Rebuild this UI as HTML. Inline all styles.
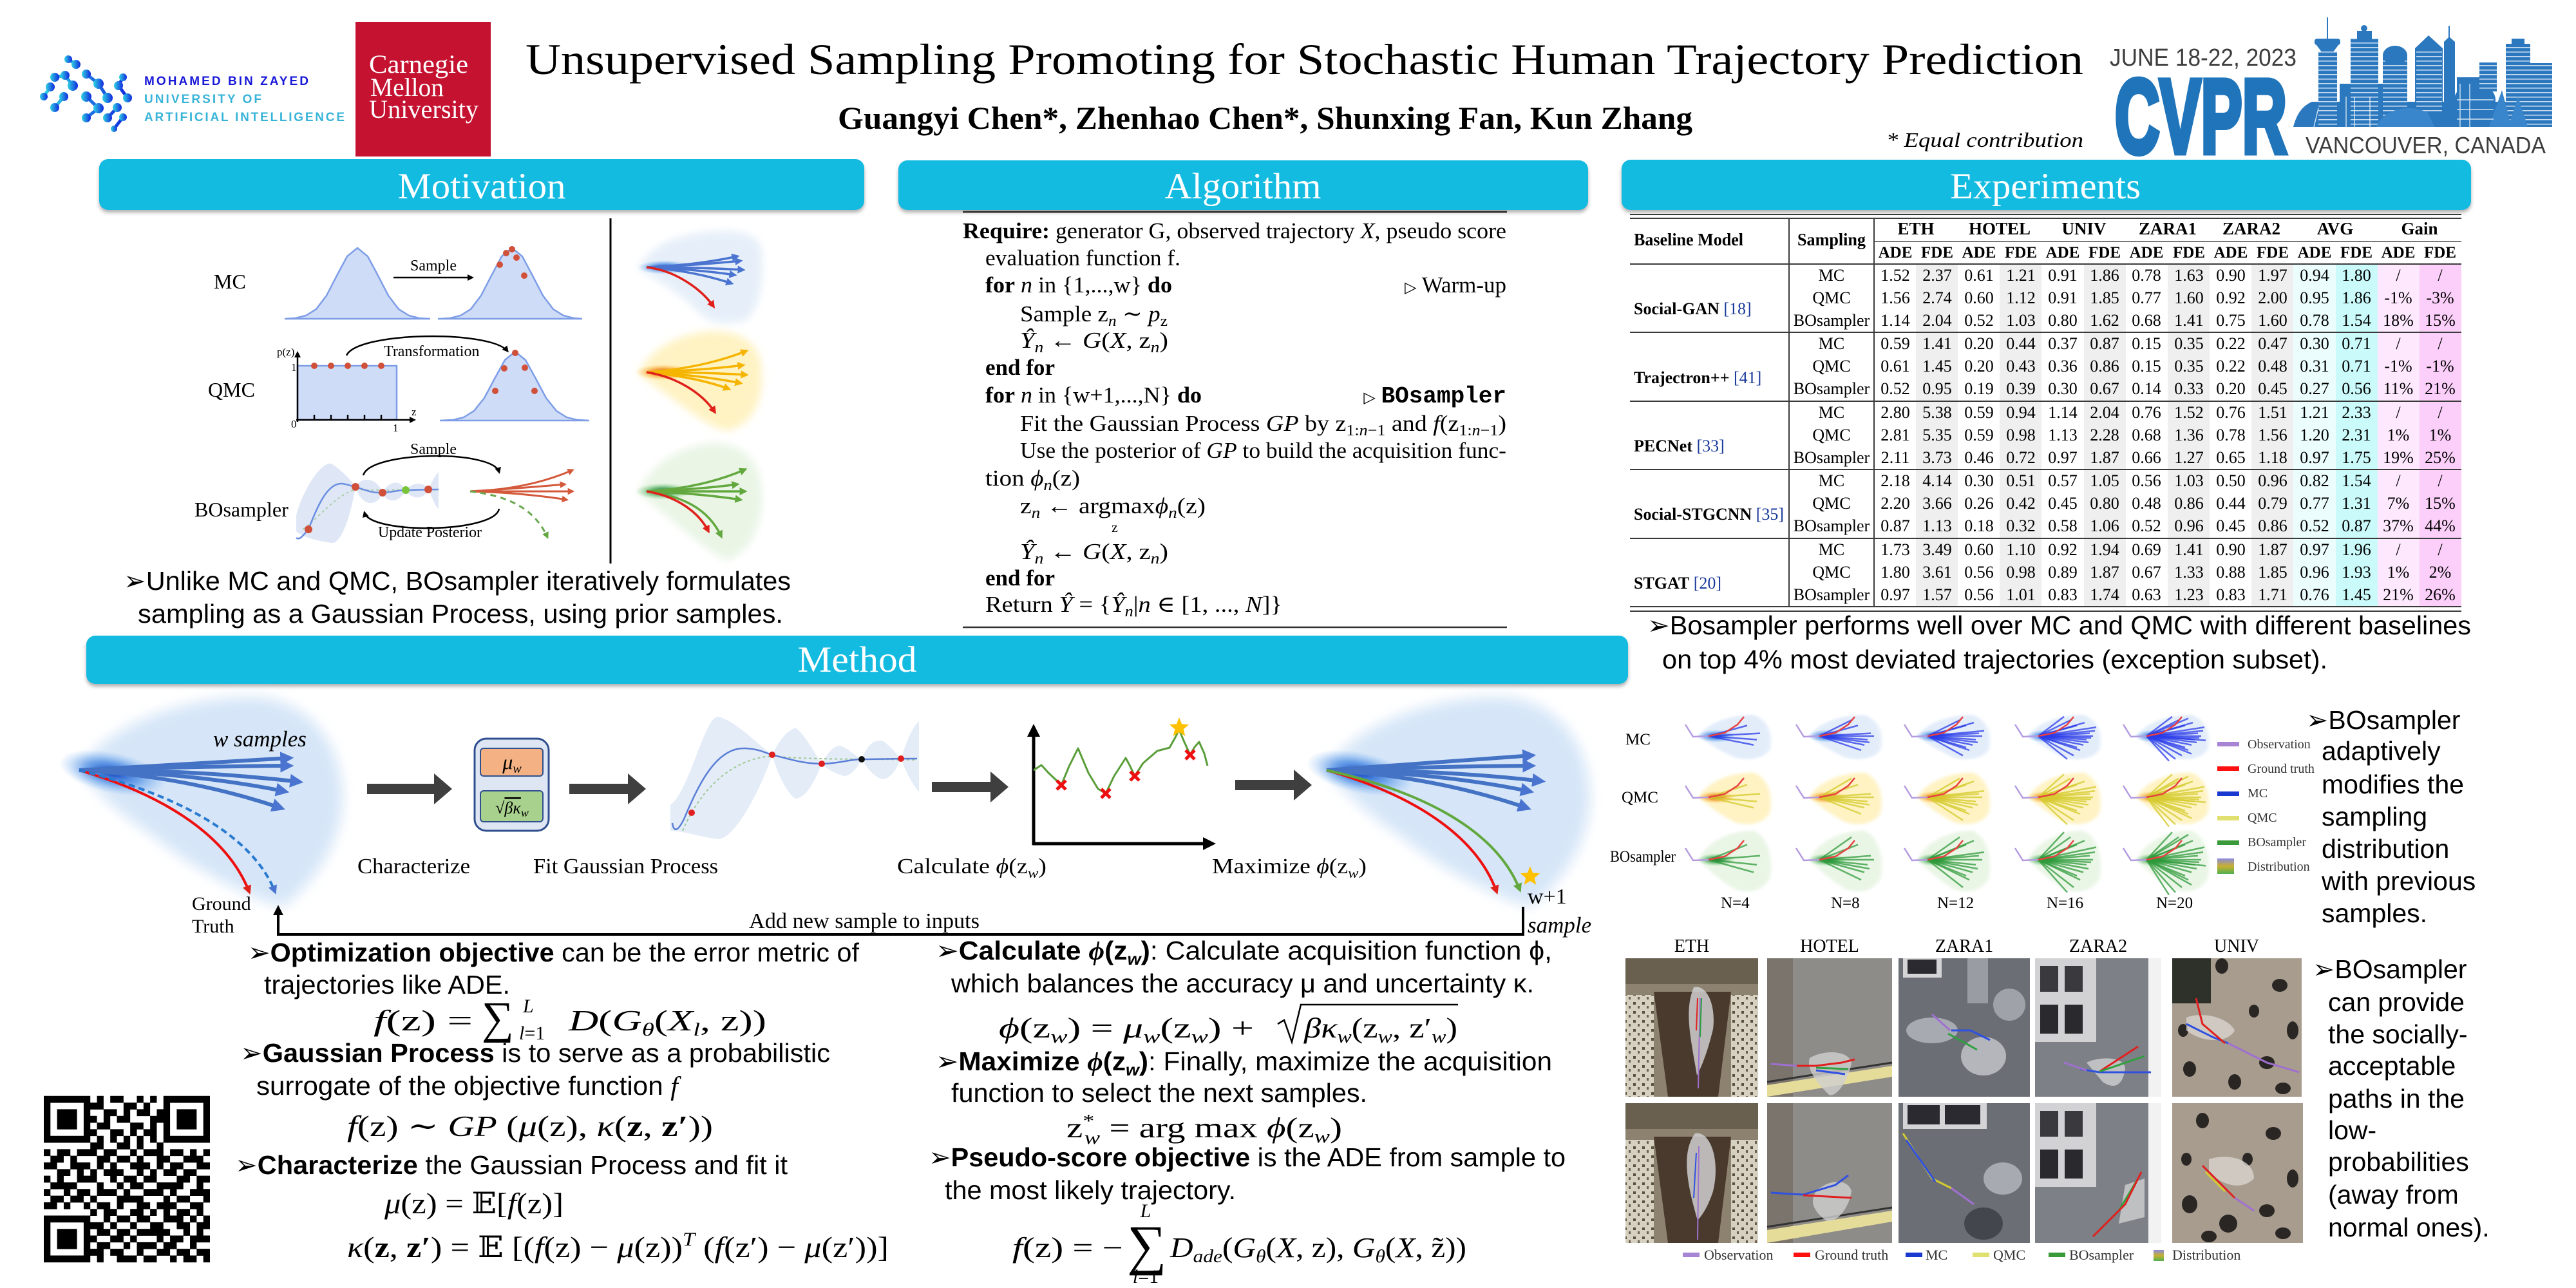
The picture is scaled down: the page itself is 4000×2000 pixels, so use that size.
<!DOCTYPE html>
<html><head><meta charset="utf-8">
<style>
html,body{margin:0;padding:0;background:#fff;}
svg{display:block;}
.s{font-family:"Liberation Serif","DejaVu Serif",serif;}
.a{font-family:"Liberation Sans","DejaVu Sans",sans-serif;}
.m{font-family:"Liberation Mono","DejaVu Sans Mono",monospace;}
.i{font-style:italic;}
.b{font-weight:bold;}
.n{font-weight:normal;}
</style></head><body>
<svg width="4000" height="2000" viewBox="0 0 4000 2000" xmlns="http://www.w3.org/2000/svg">
<defs>
<filter id="bl3" x="-20%" y="-20%" width="140%" height="140%"><feGaussianBlur stdDeviation="3"/></filter>
<filter id="bl6" x="-30%" y="-30%" width="160%" height="160%"><feGaussianBlur stdDeviation="6"/></filter>
<filter id="bl10" x="-30%" y="-30%" width="160%" height="160%"><feGaussianBlur stdDeviation="10"/></filter>
<linearGradient id="mbz" x1="0" x2="1" y1="0" y2="0"><stop offset="0" stop-color="#2fd3e2"/><stop offset="1" stop-color="#1028e0"/></linearGradient>
<radialGradient id="cB"><stop offset="0" stop-color="#0a3fc0"/><stop offset="0.5" stop-color="#2a78e0" stop-opacity="0.6"/><stop offset="1" stop-color="#6aa8f0" stop-opacity="0"/></radialGradient>
<radialGradient id="cY"><stop offset="0" stop-color="#c83000"/><stop offset="0.5" stop-color="#f08a10" stop-opacity="0.6"/><stop offset="1" stop-color="#ffd060" stop-opacity="0"/></radialGradient>
<radialGradient id="cG"><stop offset="0" stop-color="#005a20"/><stop offset="0.5" stop-color="#2a9a40" stop-opacity="0.6"/><stop offset="1" stop-color="#80d080" stop-opacity="0"/></radialGradient>
<linearGradient id="dist" x1="0" x2="0" y1="0" y2="1"><stop offset="0" stop-color="#8a8ae0"/><stop offset="0.5" stop-color="#c8b030"/><stop offset="1" stop-color="#50b050"/></linearGradient>
<pattern id="win" width="8" height="7" patternUnits="userSpaceOnUse"><rect width="8" height="7" fill="#2b78bf"/><rect y="3" width="8" height="1.6" fill="#ffffff" fill-opacity="0.75"/></pattern>
<pattern id="tile" width="14" height="14" patternUnits="userSpaceOnUse"><rect width="14" height="14" fill="#d6d0c0"/><rect x="2" y="2" width="4" height="4" fill="#5a5040"/><rect x="9" y="8" width="3" height="4" fill="#6a6050"/></pattern>
<marker id="mB" viewBox="0 0 10 10" refX="7" refY="5" markerWidth="3.5" markerHeight="3.5" orient="auto"><path d="M0 0L10 5L0 10z" fill="#4a74d0"/></marker>
<marker id="mR" viewBox="0 0 10 10" refX="7" refY="5" markerWidth="3.5" markerHeight="3.5" orient="auto"><path d="M0 0L10 5L0 10z" fill="#e0201a"/></marker>
<marker id="mY" viewBox="0 0 10 10" refX="7" refY="5" markerWidth="3.5" markerHeight="3.5" orient="auto"><path d="M0 0L10 5L0 10z" fill="#f5b400"/></marker>
<marker id="mG" viewBox="0 0 10 10" refX="7" refY="5" markerWidth="3.5" markerHeight="3.5" orient="auto"><path d="M0 0L10 5L0 10z" fill="#62a83e"/></marker>
<marker id="mO" viewBox="0 0 10 10" refX="7" refY="5" markerWidth="3.5" markerHeight="3.5" orient="auto"><path d="M0 0L10 5L0 10z" fill="#d4583a"/></marker>
<marker id="mK" viewBox="0 0 10 10" refX="7" refY="5" markerWidth="4" markerHeight="4" orient="auto"><path d="M0 0L10 5L0 10z" fill="#000"/></marker>
<path id="blob" d="M-15 0 C -5 -30, 30 -55, 70 -55 C 95 -40, 100 0, 95 35 C 85 60, 60 65, 40 55 C 20 40, 0 20, -15 0Z"/>
<g id="f1"><path vector-effect="non-scaling-stroke" d="M0 0L80 -8M0 0L75 10M0 0L70 25M0 0L60 -30"/></g>
<g id="f2"><path vector-effect="non-scaling-stroke" d="M0 0L85 0M0 0L65 40M0 0L50 -45M0 0L78 18"/></g>
<g id="f3"><path vector-effect="non-scaling-stroke" d="M0 0L55 55M0 0L88 -15M0 0L72 -38M0 0L60 32"/></g>
<g id="f4"><path vector-effect="non-scaling-stroke" d="M0 0L45 65M0 0L82 5M0 0L90 -25M0 0L40 -55"/></g>
<g id="f5"><path vector-effect="non-scaling-stroke" d="M0 0L70 50M0 0L35 70M0 0L92 12M0 0L65 -50"/></g>
<g id="gt"><path vector-effect="non-scaling-stroke" d="M0 0L25 -5L45 -18L55 -30" stroke="#e84040" stroke-width="2.5" fill="none"/><path vector-effect="non-scaling-stroke" d="M0 0L-24 1L-36 -18" stroke="#b49ae0" stroke-width="2.5" fill="none"/></g>
<path id="star" d="M0 -16L4.1 -5.7L15.2 -4.9L6.7 2.2L9.4 12.9L0 7L-9.4 12.9L-6.7 2.2L-15.2 -4.9L-4.1 -5.7Z" fill="#ffc000"/>
<path id="xx" d="M-7 -7L7 7M7 -7L-7 7" stroke="#ee1010" stroke-width="5"/>
</defs>

<rect width="4000" height="2000" fill="#fff"/>

<!-- ============ HEADER ============ -->
<g stroke="url(#mbz)" stroke-width="5">
<path d="M106 92L118 100M85 120L101 117M101 117L113 133M134 115L153 130M153 130L167 152M78 135L68 150M99 150L85 167M134 150L153 168M184 133L198 152M191 120L184 133M182 167L167 183M134 183L153 168M191 182L177 200"/>
</g>
<g fill="url(#mbz)">
<circle cx="106" cy="92" r="6"/><circle cx="118" cy="100" r="7"/><circle cx="85" cy="120" r="7"/><circle cx="101" cy="117" r="7"/><circle cx="134" cy="115" r="7"/><circle cx="113" cy="133" r="8"/><circle cx="153" cy="130" r="8"/><circle cx="191" cy="120" r="6"/><circle cx="78" cy="135" r="7"/><circle cx="99" cy="150" r="7"/><circle cx="134" cy="150" r="8"/><circle cx="167" cy="152" r="8"/><circle cx="184" cy="133" r="7"/><circle cx="198" cy="152" r="7"/><circle cx="85" cy="167" r="7"/><circle cx="153" cy="168" r="8"/><circle cx="182" cy="167" r="7"/><circle cx="134" cy="183" r="7"/><circle cx="167" cy="183" r="7"/><circle cx="191" cy="182" r="6"/><circle cx="68" cy="150" r="6"/><circle cx="177" cy="200" r="5"/>
</g>
<text class="a b" x="224" y="132" font-size="19" fill="#1818d8" textLength="255" lengthAdjust="spacing">MOHAMED BIN ZAYED</text>
<text class="a b" x="224" y="160" font-size="19" fill="#38b4d8" textLength="182" lengthAdjust="spacing">UNIVERSITY OF</text>
<text class="a b" x="224" y="188" font-size="19" fill="#38b4d8" textLength="311" lengthAdjust="spacing">ARTIFICIAL INTELLIGENCE</text>

<rect x="552" y="34" width="210" height="209" fill="#c41230"/>
<text class="s" x="573" y="113" font-size="40" fill="#fff" textLength="154" lengthAdjust="spacingAndGlyphs">Carnegie</text>
<text class="s" x="575" y="149" font-size="40" fill="#fff" textLength="114" lengthAdjust="spacingAndGlyphs">Mellon</text>
<text class="s" x="573" y="183" font-size="40" fill="#fff" textLength="170" lengthAdjust="spacingAndGlyphs">University</text>

<text class="s" x="816" y="115" font-size="68" fill="#000" textLength="2419" lengthAdjust="spacingAndGlyphs">Unsupervised Sampling Promoting for Stochastic Human Trajectory Prediction</text>
<text class="s b" x="1301" y="200" font-size="50" fill="#000" textLength="1327" lengthAdjust="spacingAndGlyphs">Guangyi Chen*, Zhenhao Chen*, Shunxing Fan, Kun Zhang</text>
<text class="s i" x="2929" y="228" font-size="32" fill="#000" textLength="306" lengthAdjust="spacingAndGlyphs">* Equal contribution</text>

<!-- CVPR logo -->
<text class="a" x="3276" y="102" font-size="38" fill="#3d3d3d" textLength="290" lengthAdjust="spacingAndGlyphs">JUNE 18-22, 2023</text>
<text class="a b" x="3284" y="237" font-size="163" fill="#1f74ba" stroke="#1f74ba" stroke-width="9" textLength="267" lengthAdjust="spacingAndGlyphs">CVPR</text>
<text class="a" x="3580" y="238" font-size="36" fill="#3d3d3d" textLength="373" lengthAdjust="spacingAndGlyphs">VANCOUVER, CANADA</text>
<g fill="#2b78bf">
<path d="M3561 197 C 3566 178, 3574 165, 3590 158 L 3963 158 L 3963 197 Z"/>
<line x1="3614" y1="27" x2="3614" y2="62" stroke="#2b78bf" stroke-width="2"/>
<rect x="3594" y="60" width="40" height="10" rx="4"/>
<path d="M3597 70H3631L3622 82H3606Z"/>
<rect x="3600" y="80" width="29" height="117" fill="url(#win)"/>
<rect x="3633" y="130" width="67" height="67"/>
<rect x="3650" y="60" width="43" height="137" fill="url(#win)"/>
<rect x="3660" y="48" width="23" height="14"/>
<circle cx="3671" cy="44" r="5"/>
<rect x="3700" y="85" width="38" height="112" fill="url(#win)"/>
<ellipse cx="3719" cy="86" rx="19" ry="15"/>
<path d="M3750 75L3771 55L3793 75V175H3750Z"/>
<rect x="3752" y="78" width="40" height="95" fill="url(#win)"/>
<path d="M3795 65L3803 57L3812 65V175H3795Z"/>
<line x1="3803" y1="40" x2="3803" y2="58" stroke="#2b78bf" stroke-width="2"/>
<rect x="3815" y="120" width="35" height="77"/>
<ellipse cx="3843" cy="155" rx="32" ry="25"/>
<rect x="3850" y="97" width="27" height="45" fill="url(#win)"/>
<rect x="3891" y="68" width="38" height="129" fill="url(#win)"/>
<rect x="3900" y="60" width="20" height="10"/>
<rect x="3922" y="98" width="41" height="99" fill="url(#win)"/>
<path d="M3865 197L3885 140L3900 197Z M3895 197L3910 150L3925 197Z" fill="#3a86cc"/>
<path d="M3690 197 C 3700 170, 3740 160, 3770 175 L 3780 197Z" fill="#3a86cc"/>
</g>
<g stroke="#fff" stroke-width="1.4" fill="none" opacity="0.8">
<path d="M3643 197V150M3656 197V150M3680 197V150M3820 197V130M3835 197V130M3815 155H3872M3815 170H3872M3815 185H3872M3593 197L3600 168"/>
</g>

<!-- ============ SECTION HEADERS ============ -->
<g fill="#b0b0b0" filter="url(#bl3)">
<rect x="154" y="252" width="1188" height="78" rx="14"/>
<rect x="1395" y="254" width="1071" height="76" rx="14"/>
<rect x="2518" y="253" width="1319" height="77" rx="14"/>
<rect x="134" y="992" width="2394" height="74" rx="14"/>
</g>
<g fill="#13bbe1">
<rect x="154" y="247" width="1188" height="79" rx="14"/>
<rect x="1395" y="249" width="1071" height="77" rx="14"/>
<rect x="2518" y="248" width="1319" height="78" rx="14"/>
<rect x="134" y="987" width="2394" height="75" rx="14"/>
</g>
<g class="s" fill="#fff" font-size="57" text-anchor="middle">
<text x="748" y="308" textLength="261" lengthAdjust="spacingAndGlyphs">Motivation</text>
<text x="1930" y="308" textLength="243" lengthAdjust="spacingAndGlyphs">Algorithm</text>
<text x="3176" y="308" textLength="296" lengthAdjust="spacingAndGlyphs">Experiments</text>
<text x="1331" y="1043" textLength="185" lengthAdjust="spacingAndGlyphs">Method</text>
</g>

<!-- ============ MOTIVATION ============ -->
<g class="s" font-size="32" fill="#000">
<text x="332" y="448">MC</text>
<text x="323" y="616">QMC</text>
<text x="302" y="802">BOsampler</text>
</g>
<g fill="#cfdcf8" stroke="#7d9de6" stroke-width="2.5">
<path d="M442 495 L443 495 L459 494 L475 490 L491 480 L507 459 L523 428 L539 398 L555 385 L571 398 L587 428 L603 459 L619 480 L635 490 L651 494 L668 495Z"/>
<path d="M680 495 L683 495 L699 494 L715 490 L731 480 L747 459 L763 428 L779 398 L795 385 L811 398 L827 428 L843 459 L859 480 L875 490 L891 494 L904 495Z"/>
<path d="M683 653 L704 652 L720 648 L736 638 L752 618 L768 588 L784 559 L800 546 L816 559 L832 588 L848 618 L864 638 L880 648 L896 652 L915 653Z"/>
<path d="M462 568 H616 V652 H462Z"/>
</g>
<g fill="#d0503a">
<circle cx="795" cy="387" r="5"/><circle cx="786" cy="393" r="5"/><circle cx="802" cy="400" r="5"/><circle cx="776" cy="411" r="5"/><circle cx="814" cy="428" r="5"/>
<circle cx="800" cy="548" r="5"/><circle cx="783" cy="572" r="5"/><circle cx="815" cy="571" r="5"/><circle cx="769" cy="607" r="5"/><circle cx="830" cy="607" r="5"/>
<circle cx="488" cy="568" r="5"/><circle cx="514" cy="568" r="5"/><circle cx="540" cy="568" r="5"/><circle cx="566" cy="568" r="5"/><circle cx="592" cy="568" r="5"/>
</g>
<g stroke="#000" stroke-width="2.5" fill="none">
<line x1="611" y1="431" x2="733" y2="431" marker-end="url(#mK)"/>
<path d="M462 655 V548" marker-end="url(#mK)"/>
<path d="M460 652 H643" marker-end="url(#mK)"/>
<path d="M488 652v-8M514 652v-8M540 652v-8M566 652v-8M592 652v-8"/>
<path d="M538 552 C 555 515, 760 512, 788 545" marker-end="url(#mK)"/>
<path d="M564 738 C 575 700, 765 698, 775 733" marker-end="url(#mK)"/>
<path d="M775 790 C 768 828, 575 830, 566 796" marker-end="url(#mK)"/>
</g>
<g class="s" fill="#000" font-size="24">
<text x="637" y="420">Sample</text>
<text x="596" y="553">Transformation</text>
<text x="637" y="705">Sample</text>
<text x="587" y="834" textLength="161" lengthAdjust="spacingAndGlyphs">Update Posterior</text>
<text x="430" y="552" font-size="17">p(z)</text>
<text x="452" y="576" font-size="17">1</text>
<text x="452" y="664" font-size="17">0</text>
<text x="610" y="670" font-size="17">1</text>
<text x="639" y="645" font-size="17">z</text>
</g>
<!-- BO GP small -->
<path d="M460 800 C 470 760, 500 715, 515 720 C 530 730, 545 745, 552 756 C 560 740, 585 740, 594 765 C 605 745, 622 745, 630 761 C 640 748, 660 748, 665 760 C 672 745, 678 735, 681 733 L 681 790 C 675 785, 670 770, 665 760 C 660 775, 640 778, 630 761 C 620 782, 600 782, 594 765 C 585 790, 560 785, 552 756 C 545 800, 530 845, 515 843 C 495 840, 470 835, 460 825 Z" fill="#dfe7f6"/>
<path d="M470 822 C 500 800, 520 770, 552 760 C 580 762, 610 760, 681 761" stroke="#9cc890" stroke-width="1.5" stroke-dasharray="4 4" fill="none"/>
<path d="M460 835 C 465 840, 472 830, 479 822 C 495 780, 510 750, 531 751 C 540 752, 546 755, 552 756 C 570 762, 580 766, 594 765 C 610 764, 620 761, 630 761 C 645 761, 655 760, 681 760" stroke="#6a8ee0" stroke-width="2.5" fill="none"/>
<g fill="#d0503a"><circle cx="479" cy="822" r="6"/><circle cx="552" cy="756" r="6"/><circle cx="594" cy="765" r="6"/><circle cx="665" cy="760" r="6"/></g>
<circle cx="630" cy="761" r="6" fill="#7ac43a"/>
<g stroke="#d4583a" stroke-width="3" fill="none" marker-end="url(#mO)">
<path d="M730 763 Q 820 760 889 730"/><path d="M730 763 Q 810 758 877 752"/><path d="M730 763 Q 810 763 889 763"/><path d="M730 763 Q 810 765 880 776"/>
</g>
<path d="M730 763 C 790 770, 830 790, 850 834" stroke="#6aa84f" stroke-width="3" stroke-dasharray="9 7" fill="none" marker-end="url(#mG)"/>
<line x1="948" y1="339" x2="948" y2="875" stroke="#000" stroke-width="3"/>
<!-- right fans -->
<path d="M991 417 C 1010 380, 1050 365, 1100 360 C 1150 355, 1180 365, 1183 390 C 1186 430, 1183 470, 1160 497 C 1130 505, 1100 505, 1080 480 C 1050 450, 1010 430, 991 417 Z" fill="#e6eff9" filter="url(#bl6)"/>
<ellipse cx="1032" cy="415" rx="42" ry="11" fill="url(#cB)"/>
<g stroke="#4a74d0" stroke-width="3.5" fill="none" marker-end="url(#mB)">
<path d="M1004 415 Q 1080 412 1145 398"/><path d="M1004 415 Q 1080 412 1150 405"/><path d="M1004 415 Q 1080 415 1154 419"/><path d="M1004 415 Q 1080 418 1141 427"/><path d="M1004 415 Q 1075 420 1136 440"/>
</g>
<path d="M1004 415 C 1050 420, 1090 450, 1108 476" stroke="#e0201a" stroke-width="3.5" fill="none" marker-end="url(#mR)"/>
<path d="M991 580 C 1010 540, 1060 515, 1110 514 C 1160 515, 1183 540, 1183 580 C 1185 620, 1170 660, 1130 669 C 1100 665, 1060 630, 991 580 Z" fill="#fff3c4" filter="url(#bl6)"/>
<ellipse cx="1030" cy="578" rx="44" ry="13" fill="url(#cY)"/>
<g stroke="#f5b400" stroke-width="3.5" fill="none" marker-end="url(#mY)">
<path d="M1004 578 Q 1090 572 1159 545"/><path d="M1004 578 Q 1090 575 1154 567"/><path d="M1004 578 Q 1090 578 1159 582"/><path d="M1004 578 Q 1085 582 1150 595"/><path d="M1004 578 Q 1080 585 1132 604"/>
</g>
<path d="M1004 578 C 1050 585, 1090 610, 1110 640" stroke="#e0201a" stroke-width="3.5" fill="none" marker-end="url(#mR)"/>
<path d="M991 765 C 1010 720, 1060 690, 1110 688 C 1160 690, 1183 720, 1183 770 C 1185 820, 1160 860, 1130 870 C 1100 860, 1060 820, 991 765 Z" fill="#eaf5e6" filter="url(#bl6)"/>
<ellipse cx="1030" cy="763" rx="44" ry="13" fill="url(#cG)"/>
<g stroke="#62a83e" stroke-width="3.5" fill="none" marker-end="url(#mG)">
<path d="M1004 763 Q 1090 758 1157 729"/><path d="M1004 763 Q 1085 760 1145 752"/><path d="M1004 763 Q 1085 763 1157 763"/><path d="M1004 763 Q 1085 766 1150 776"/><path d="M1004 763 C 1060 770, 1100 790, 1120 833"/>
</g>
<path d="M1004 763 C 1050 770, 1085 795, 1100 825" stroke="#e0201a" stroke-width="3.5" fill="none" marker-end="url(#mR)"/>
<g class="a" font-size="41" fill="#000">
<text x="192" y="916" textLength="1036" lengthAdjust="spacingAndGlyphs">➢Unlike MC and QMC, BOsampler iteratively formulates</text>
<text x="214" y="967" textLength="1002" lengthAdjust="spacingAndGlyphs">sampling as a Gaussian Process, using prior samples.</text>
</g>

<!-- ============ ALGORITHM ============ -->
<line x1="1495" y1="329" x2="2340" y2="329" stroke="#333" stroke-width="3"/>
<line x1="1495" y1="974" x2="2340" y2="974" stroke="#333" stroke-width="2.5"/>
<g class="s" font-size="35" fill="#000">
<text x="1495" y="370" textLength="844" lengthAdjust="spacingAndGlyphs"><tspan class="b">Require:</tspan>  generator G, observed trajectory <tspan class="i">X</tspan>, pseudo score</text>
<text x="1530" y="412" textLength="303" lengthAdjust="spacingAndGlyphs">evaluation function f.</text>
<text x="1530" y="454" textLength="290" lengthAdjust="spacingAndGlyphs"><tspan class="b">for</tspan> <tspan class="i">n</tspan> in {1,...,w} <tspan class="b">do</tspan></text>
<text x="2339" y="454" text-anchor="end"><tspan font-family="DejaVu Sans" font-size="24">▷</tspan> Warm-up</text>
<text x="1584" y="499" textLength="229" lengthAdjust="spacingAndGlyphs">Sample z<tspan class="i" font-size="24" dy="7">n</tspan><tspan dy="-7"> ∼ </tspan><tspan class="i">p</tspan><tspan font-size="24" dy="7">z</tspan></text>
<text x="1584" y="540" textLength="230" lengthAdjust="spacingAndGlyphs"><tspan class="i">Ŷ</tspan><tspan class="i" font-size="24" dy="7">n</tspan><tspan dy="-7"> ← </tspan><tspan class="i">G</tspan>(<tspan class="i">X</tspan>, z<tspan class="i" font-size="24" dy="7">n</tspan><tspan dy="-7">)</tspan></text>
<text x="1530" y="582" class="b" textLength="108" lengthAdjust="spacingAndGlyphs">end for</text>
<text x="1530" y="625" textLength="336" lengthAdjust="spacingAndGlyphs"><tspan class="b">for</tspan> <tspan class="i">n</tspan> in {w+1,...,N} <tspan class="b">do</tspan></text>
<text x="2339" y="625" text-anchor="end"><tspan font-family="DejaVu Sans" font-size="24">▷</tspan> <tspan class="m b" font-size="36">BOsampler</tspan></text>
<text x="1584" y="669" textLength="755" lengthAdjust="spacingAndGlyphs">Fit the Gaussian Process <tspan class="i">GP</tspan> by z<tspan font-size="24" dy="7">1:<tspan class="i">n</tspan>−1</tspan><tspan dy="-7"> and </tspan><tspan class="i">f</tspan>(z<tspan font-size="24" dy="7">1:<tspan class="i">n</tspan>−1</tspan><tspan dy="-7">)</tspan></text>
<text x="1584" y="711" textLength="755" lengthAdjust="spacingAndGlyphs">Use the posterior of <tspan class="i">GP</tspan> to build the acquisition func-</text>
<text x="1530" y="754" textLength="147" lengthAdjust="spacingAndGlyphs">tion <tspan class="i">ϕ</tspan><tspan class="i" font-size="24" dy="7">n</tspan><tspan dy="-7">(z)</tspan></text>
<text x="1584" y="797" textLength="288" lengthAdjust="spacingAndGlyphs">z<tspan class="i" font-size="24" dy="7">n</tspan><tspan dy="-7"> ← argmax</tspan><tspan class="i">ϕ</tspan><tspan class="i" font-size="24" dy="7">n</tspan><tspan dy="-7">(z)</tspan></text>
<text x="1726" y="826" font-size="22">z</text>
<text x="1584" y="868" textLength="230" lengthAdjust="spacingAndGlyphs"><tspan class="i">Ŷ</tspan><tspan class="i" font-size="24" dy="7">n</tspan><tspan dy="-7"> ← </tspan><tspan class="i">G</tspan>(<tspan class="i">X</tspan>, z<tspan class="i" font-size="24" dy="7">n</tspan><tspan dy="-7">)</tspan></text>
<text x="1530" y="909" class="b" textLength="108" lengthAdjust="spacingAndGlyphs">end for</text>
<text x="1530" y="950" textLength="461" lengthAdjust="spacingAndGlyphs">Return <tspan class="i">Ŷ</tspan> = {<tspan class="i">Ŷ</tspan><tspan class="i" font-size="24" dy="7">n</tspan><tspan dy="-7">|</tspan><tspan class="i">n</tspan> ∈ [1, ..., <tspan class="i">N</tspan>]}</text>
</g>

<!-- ============ EXPERIMENTS TABLE ============ -->
<g>
<rect x="2975" y="411" width="65" height="530" fill="#efefef"/>
<rect x="3105" y="411" width="65" height="530" fill="#efefef"/>
<rect x="3236" y="411" width="65" height="530" fill="#efefef"/>
<rect x="3366" y="411" width="65" height="530" fill="#efefef"/>
<rect x="3496" y="411" width="65" height="530" fill="#efefef"/>
<rect x="3561" y="411" width="66" height="530" fill="#ecfdfd"/>
<rect x="3627" y="411" width="65" height="530" fill="#cbfafa"/>
<rect x="3692" y="411" width="65" height="530" fill="#fde8fd"/>
<rect x="3757" y="411" width="65" height="530" fill="#fbcff9"/>
</g>
<g stroke="#3a3a3a" stroke-width="2">
<line x1="2531" y1="333" x2="3822" y2="333"/><line x1="2531" y1="339" x2="3822" y2="339"/>
<line x1="2910" y1="375" x2="3822" y2="375" stroke="#777"/>
<line x1="2531" y1="410" x2="3822" y2="410"/>
<line x1="2531" y1="516" x2="3822" y2="516"/><line x1="2531" y1="623" x2="3822" y2="623"/>
<line x1="2531" y1="729" x2="3822" y2="729"/><line x1="2531" y1="836" x2="3822" y2="836"/>
<line x1="2531" y1="942" x2="3822" y2="942"/><line x1="2531" y1="949" x2="3822" y2="949"/>
<line x1="2778" y1="339" x2="2778" y2="942"/><line x1="2910" y1="339" x2="2910" y2="942"/>
</g>
<g class="s b" font-size="27" fill="#000">
<text x="2537" y="381" textLength="170" lengthAdjust="spacingAndGlyphs">Baseline Model</text>
<text x="2791" y="381" textLength="106" lengthAdjust="spacingAndGlyphs">Sampling</text>
<text y="364" text-anchor="middle"><tspan x="2975">ETH</tspan><tspan x="3105">HOTEL</tspan><tspan x="3236">UNIV</tspan><tspan x="3366">ZARA1</tspan><tspan x="3496">ZARA2</tspan><tspan x="3626">AVG</tspan><tspan x="3757">Gain</tspan></text>
<text y="400" text-anchor="middle" font-size="25"><tspan x="2943">ADE</tspan><tspan x="3008">FDE</tspan><tspan x="3073">ADE</tspan><tspan x="3138">FDE</tspan><tspan x="3203">ADE</tspan><tspan x="3268">FDE</tspan><tspan x="3333">ADE</tspan><tspan x="3399">FDE</tspan><tspan x="3464">ADE</tspan><tspan x="3529">FDE</tspan><tspan x="3594">ADE</tspan><tspan x="3659">FDE</tspan><tspan x="3724">ADE</tspan><tspan x="3789">FDE</tspan></text>
</g>
<g class="s" font-size="26" fill="#000">
<text x="2537" y="488"><tspan class="b">Social-GAN</tspan> <tspan fill="#1a3a9a">[18]</tspan></text>
<text x="2537" y="595"><tspan class="b">Trajectron++</tspan> <tspan fill="#1a3a9a">[41]</tspan></text>
<text x="2537" y="701"><tspan class="b">PECNet</tspan> <tspan fill="#1a3a9a">[33]</tspan></text>
<text x="2537" y="807" textLength="233" lengthAdjust="spacingAndGlyphs"><tspan class="b">Social-STGCNN</tspan> <tspan fill="#1a3a9a">[35]</tspan></text>
<text x="2537" y="914"><tspan class="b">STGAT</tspan> <tspan fill="#1a3a9a">[20]</tspan></text>
</g>
<g class="s" font-size="26" fill="#000" text-anchor="middle">
<text y="436"><tspan x="2844">MC</tspan><tspan x="2943">1.52</tspan><tspan x="3008">2.37</tspan><tspan x="3073">0.61</tspan><tspan x="3138">1.21</tspan><tspan x="3203">0.91</tspan><tspan x="3268">1.86</tspan><tspan x="3333">0.78</tspan><tspan x="3399">1.63</tspan><tspan x="3464">0.90</tspan><tspan x="3529">1.97</tspan><tspan x="3594">0.94</tspan><tspan x="3659">1.80</tspan><tspan x="3724">/</tspan><tspan x="3789">/</tspan></text>
<text y="471"><tspan x="2844">QMC</tspan><tspan x="2943">1.56</tspan><tspan x="3008">2.74</tspan><tspan x="3073">0.60</tspan><tspan x="3138">1.12</tspan><tspan x="3203">0.91</tspan><tspan x="3268">1.85</tspan><tspan x="3333">0.77</tspan><tspan x="3399">1.60</tspan><tspan x="3464">0.92</tspan><tspan x="3529">2.00</tspan><tspan x="3594">0.95</tspan><tspan x="3659">1.86</tspan><tspan x="3724">-1%</tspan><tspan x="3789">-3%</tspan></text>
<text y="506"><tspan x="2844">BOsampler</tspan><tspan x="2943">1.14</tspan><tspan x="3008">2.04</tspan><tspan x="3073">0.52</tspan><tspan x="3138">1.03</tspan><tspan x="3203">0.80</tspan><tspan x="3268">1.62</tspan><tspan x="3333">0.68</tspan><tspan x="3399">1.41</tspan><tspan x="3464">0.75</tspan><tspan x="3529">1.60</tspan><tspan x="3594">0.78</tspan><tspan x="3659">1.54</tspan><tspan x="3724">18%</tspan><tspan x="3789">15%</tspan></text>
<text y="542"><tspan x="2844">MC</tspan><tspan x="2943">0.59</tspan><tspan x="3008">1.41</tspan><tspan x="3073">0.20</tspan><tspan x="3138">0.44</tspan><tspan x="3203">0.37</tspan><tspan x="3268">0.87</tspan><tspan x="3333">0.15</tspan><tspan x="3399">0.35</tspan><tspan x="3464">0.22</tspan><tspan x="3529">0.47</tspan><tspan x="3594">0.30</tspan><tspan x="3659">0.71</tspan><tspan x="3724">/</tspan><tspan x="3789">/</tspan></text>
<text y="577"><tspan x="2844">QMC</tspan><tspan x="2943">0.61</tspan><tspan x="3008">1.45</tspan><tspan x="3073">0.20</tspan><tspan x="3138">0.43</tspan><tspan x="3203">0.36</tspan><tspan x="3268">0.86</tspan><tspan x="3333">0.15</tspan><tspan x="3399">0.35</tspan><tspan x="3464">0.22</tspan><tspan x="3529">0.48</tspan><tspan x="3594">0.31</tspan><tspan x="3659">0.71</tspan><tspan x="3724">-1%</tspan><tspan x="3789">-1%</tspan></text>
<text y="612"><tspan x="2844">BOsampler</tspan><tspan x="2943">0.52</tspan><tspan x="3008">0.95</tspan><tspan x="3073">0.19</tspan><tspan x="3138">0.39</tspan><tspan x="3203">0.30</tspan><tspan x="3268">0.67</tspan><tspan x="3333">0.14</tspan><tspan x="3399">0.33</tspan><tspan x="3464">0.20</tspan><tspan x="3529">0.45</tspan><tspan x="3594">0.27</tspan><tspan x="3659">0.56</tspan><tspan x="3724">11%</tspan><tspan x="3789">21%</tspan></text>
<text y="649"><tspan x="2844">MC</tspan><tspan x="2943">2.80</tspan><tspan x="3008">5.38</tspan><tspan x="3073">0.59</tspan><tspan x="3138">0.94</tspan><tspan x="3203">1.14</tspan><tspan x="3268">2.04</tspan><tspan x="3333">0.76</tspan><tspan x="3399">1.52</tspan><tspan x="3464">0.76</tspan><tspan x="3529">1.51</tspan><tspan x="3594">1.21</tspan><tspan x="3659">2.33</tspan><tspan x="3724">/</tspan><tspan x="3789">/</tspan></text>
<text y="684"><tspan x="2844">QMC</tspan><tspan x="2943">2.81</tspan><tspan x="3008">5.35</tspan><tspan x="3073">0.59</tspan><tspan x="3138">0.98</tspan><tspan x="3203">1.13</tspan><tspan x="3268">2.28</tspan><tspan x="3333">0.68</tspan><tspan x="3399">1.36</tspan><tspan x="3464">0.78</tspan><tspan x="3529">1.56</tspan><tspan x="3594">1.20</tspan><tspan x="3659">2.31</tspan><tspan x="3724">1%</tspan><tspan x="3789">1%</tspan></text>
<text y="719"><tspan x="2844">BOsampler</tspan><tspan x="2943">2.11</tspan><tspan x="3008">3.73</tspan><tspan x="3073">0.46</tspan><tspan x="3138">0.72</tspan><tspan x="3203">0.97</tspan><tspan x="3268">1.87</tspan><tspan x="3333">0.66</tspan><tspan x="3399">1.27</tspan><tspan x="3464">0.65</tspan><tspan x="3529">1.18</tspan><tspan x="3594">0.97</tspan><tspan x="3659">1.75</tspan><tspan x="3724">19%</tspan><tspan x="3789">25%</tspan></text>
<text y="755"><tspan x="2844">MC</tspan><tspan x="2943">2.18</tspan><tspan x="3008">4.14</tspan><tspan x="3073">0.30</tspan><tspan x="3138">0.51</tspan><tspan x="3203">0.57</tspan><tspan x="3268">1.05</tspan><tspan x="3333">0.56</tspan><tspan x="3399">1.03</tspan><tspan x="3464">0.50</tspan><tspan x="3529">0.96</tspan><tspan x="3594">0.82</tspan><tspan x="3659">1.54</tspan><tspan x="3724">/</tspan><tspan x="3789">/</tspan></text>
<text y="790"><tspan x="2844">QMC</tspan><tspan x="2943">2.20</tspan><tspan x="3008">3.66</tspan><tspan x="3073">0.26</tspan><tspan x="3138">0.42</tspan><tspan x="3203">0.45</tspan><tspan x="3268">0.80</tspan><tspan x="3333">0.48</tspan><tspan x="3399">0.86</tspan><tspan x="3464">0.44</tspan><tspan x="3529">0.79</tspan><tspan x="3594">0.77</tspan><tspan x="3659">1.31</tspan><tspan x="3724">7%</tspan><tspan x="3789">15%</tspan></text>
<text y="825"><tspan x="2844">BOsampler</tspan><tspan x="2943">0.87</tspan><tspan x="3008">1.13</tspan><tspan x="3073">0.18</tspan><tspan x="3138">0.32</tspan><tspan x="3203">0.58</tspan><tspan x="3268">1.06</tspan><tspan x="3333">0.52</tspan><tspan x="3399">0.96</tspan><tspan x="3464">0.45</tspan><tspan x="3529">0.86</tspan><tspan x="3594">0.52</tspan><tspan x="3659">0.87</tspan><tspan x="3724">37%</tspan><tspan x="3789">44%</tspan></text>
<text y="862"><tspan x="2844">MC</tspan><tspan x="2943">1.73</tspan><tspan x="3008">3.49</tspan><tspan x="3073">0.60</tspan><tspan x="3138">1.10</tspan><tspan x="3203">0.92</tspan><tspan x="3268">1.94</tspan><tspan x="3333">0.69</tspan><tspan x="3399">1.41</tspan><tspan x="3464">0.90</tspan><tspan x="3529">1.87</tspan><tspan x="3594">0.97</tspan><tspan x="3659">1.96</tspan><tspan x="3724">/</tspan><tspan x="3789">/</tspan></text>
<text y="897"><tspan x="2844">QMC</tspan><tspan x="2943">1.80</tspan><tspan x="3008">3.61</tspan><tspan x="3073">0.56</tspan><tspan x="3138">0.98</tspan><tspan x="3203">0.89</tspan><tspan x="3268">1.87</tspan><tspan x="3333">0.67</tspan><tspan x="3399">1.33</tspan><tspan x="3464">0.88</tspan><tspan x="3529">1.85</tspan><tspan x="3594">0.96</tspan><tspan x="3659">1.93</tspan><tspan x="3724">1%</tspan><tspan x="3789">2%</tspan></text>
<text y="932"><tspan x="2844">BOsampler</tspan><tspan x="2943">0.97</tspan><tspan x="3008">1.57</tspan><tspan x="3073">0.56</tspan><tspan x="3138">1.01</tspan><tspan x="3203">0.83</tspan><tspan x="3268">1.74</tspan><tspan x="3333">0.63</tspan><tspan x="3399">1.23</tspan><tspan x="3464">0.83</tspan><tspan x="3529">1.71</tspan><tspan x="3594">0.76</tspan><tspan x="3659">1.45</tspan><tspan x="3724">21%</tspan><tspan x="3789">26%</tspan></text>
</g>
<g class="a" font-size="41" fill="#000">
<text x="2558" y="985" textLength="1279" lengthAdjust="spacingAndGlyphs">➢Bosampler performs well over MC and QMC with different baselines</text>
<text x="2581" y="1038" textLength="1033" lengthAdjust="spacingAndGlyphs">on top 4% most deviated trajectories (exception subset).</text>
</g>

<!-- ============ METHOD DIAGRAM ============ -->
<path d="M123 1196 C 160 1130, 280 1080, 400 1082 C 480 1090, 530 1150, 532 1240 C 530 1300, 500 1360, 440 1408 C 400 1400, 300 1350, 240 1300 C 180 1260, 140 1220, 123 1196 Z" fill="#d6e6f8" filter="url(#bl10)"/>
<ellipse cx="175" cy="1200" rx="85" ry="32" fill="url(#cB)" transform="rotate(12 175 1200)"/>
<g stroke="#4472c4" stroke-width="6" fill="none" marker-end="url(#mB)">
<path d="M123 1196 Q 300 1185 450 1177"/><path d="M123 1196 Q 300 1190 450 1189"/><path d="M123 1196 Q 300 1195 465 1214"/><path d="M123 1196 Q 300 1200 443 1229"/><path d="M123 1196 Q 290 1205 437 1255"/>
</g>
<path d="M123 1196 C 240 1230, 350 1290, 387 1385" stroke="#ee1010" stroke-width="4" fill="none" marker-end="url(#mR)"/>
<path d="M123 1196 C 260 1230, 390 1290, 427 1385" stroke="#2a7ad0" stroke-width="4" stroke-dasharray="10 6" fill="none" marker-end="url(#mB)"/>
<text class="s i" x="331" y="1159" font-size="35">w samples</text>
<text class="s" x="298" y="1413" font-size="30">Ground</text>
<text class="s" x="298" y="1448" font-size="30">Truth</text>

<g fill="#3f3f3f">
<path d="M570 1217H674V1201L702 1225L674 1249V1233H570Z"/>
<path d="M884 1217H975V1201L1003 1225L975 1249V1233H884Z"/>
<path d="M1447 1214H1538V1198L1566 1222L1538 1246V1230H1447Z"/>
<path d="M1918 1211H2009V1195L2037 1219L2009 1243V1227H1918Z"/>
</g>
<rect x="737" y="1147" width="115" height="143" rx="18" fill="#dfe6f3" stroke="#2f4f8f" stroke-width="3"/>
<rect x="746" y="1162" width="97" height="43" rx="5" fill="#f4b183" stroke="#2f4f8f" stroke-width="2"/>
<rect x="746" y="1228" width="97" height="48" rx="5" fill="#a9d18e" stroke="#2f4f8f" stroke-width="2"/>
<text class="s i" x="795" y="1194" font-size="32" text-anchor="middle">μ<tspan font-size="20" dy="6">w</tspan></text>
<text class="s" x="795" y="1263" font-size="26" text-anchor="middle">√<tspan class="i" text-decoration="overline">βκ</tspan><tspan class="i" font-size="18" dy="5">w</tspan></text>

<path d="M1041 1250 C 1070 1230, 1095 1110, 1115 1113 C 1140 1118, 1170 1150, 1199 1172 C 1215 1140, 1225 1135, 1235 1130 C 1250 1140, 1265 1170, 1276 1186 C 1290 1160, 1300 1155, 1310 1160 C 1320 1165, 1330 1175, 1338 1179 C 1350 1150, 1360 1150, 1370 1150 C 1385 1160, 1395 1175, 1399 1178 C 1405 1160, 1415 1130, 1427 1120 L1427 1230 C 1415 1215, 1405 1195, 1399 1178 C 1390 1200, 1380 1210, 1370 1210 C 1355 1205, 1345 1190, 1338 1179 C 1330 1195, 1320 1205, 1310 1205 C 1295 1200, 1285 1195, 1276 1186 C 1265 1215, 1250 1240, 1235 1240 C 1220 1230, 1205 1195, 1199 1172 C 1180 1230, 1140 1303, 1115 1303 C 1090 1300, 1060 1290, 1041 1290 Z" fill="#e4ecf8"/>
<path d="M1060 1290 C 1090 1220, 1140 1178, 1199 1174 C 1260 1180, 1330 1178, 1424 1180" stroke="#9cc890" stroke-width="2" stroke-dasharray="4 4" fill="none"/>
<path d="M1044 1278 C 1046 1292, 1052 1292, 1062 1272 C 1082 1225, 1110 1160, 1157 1162 C 1180 1163, 1190 1170, 1199 1172 C 1230 1180, 1250 1186, 1276 1186 C 1300 1186, 1320 1179, 1338 1179 C 1360 1179, 1380 1178, 1424 1178" stroke="#5a7ed6" stroke-width="2.5" fill="none"/>
<g fill="#e02020"><circle cx="1074" cy="1262" r="5"/><circle cx="1199" cy="1172" r="5"/><circle cx="1276" cy="1186" r="5"/><circle cx="1399" cy="1178" r="5"/></g>
<circle cx="1338" cy="1179" r="5" fill="#111"/>

<g stroke="#000" stroke-width="5" fill="none">
<path d="M1605 1312V1130" marker-end="url(#mK)"/>
<path d="M1603 1310H1882" marker-end="url(#mK)"/>
</g>
<polyline points="1605,1196 1617,1188 1628,1200 1648,1219 1660,1190 1674,1162 1690,1200 1705,1225 1717,1232 1730,1205 1748,1177 1755,1190 1762,1205 1775,1185 1797,1166 1816,1161 1825,1145 1831,1133 1838,1150 1848,1172 1855,1160 1862,1152 1870,1170 1875,1189" fill="none" stroke="#5a9e3a" stroke-width="3" stroke-linejoin="round"/>
<use href="#xx" x="1648" y="1219"/><use href="#xx" x="1717" y="1232"/><use href="#xx" x="1762" y="1205"/><use href="#xx" x="1848" y="1172"/>
<use href="#star" x="1831" y="1130"/>

<path d="M2060 1196 C 2097 1130, 2217 1080, 2337 1082 C 2417 1090, 2467 1150, 2469 1240 C 2467 1300, 2437 1360, 2377 1408 C 2337 1400, 2237 1350, 2177 1300 C 2117 1260, 2077 1220, 2060 1196 Z" fill="#d6e6f8" filter="url(#bl10)"/>
<ellipse cx="2112" cy="1200" rx="85" ry="32" fill="url(#cB)" transform="rotate(12 2112 1200)"/>
<g stroke="#4472c4" stroke-width="6" fill="none" marker-end="url(#mB)">
<path d="M2060 1196 Q 2237 1183 2379 1173"/><path d="M2060 1196 Q 2237 1190 2379 1189"/><path d="M2060 1196 Q 2237 1195 2394 1213"/><path d="M2060 1196 Q 2237 1200 2376 1229"/><path d="M2060 1196 Q 2227 1205 2372 1255"/>
</g>
<path d="M2060 1196 C 2180 1230, 2290 1290, 2324 1385" stroke="#ee1010" stroke-width="4" fill="none" marker-end="url(#mR)"/>
<path d="M2060 1196 C 2190 1225, 2320 1280, 2360 1382" stroke="#62a83e" stroke-width="4" fill="none" marker-end="url(#mG)"/>
<use href="#star" x="2376" y="1361"/>
<text class="s" x="2372" y="1403" font-size="34">w+1</text>
<text class="s i" x="2372" y="1448" font-size="35">sample</text>

<g class="s" font-size="34" fill="#000">
<text x="555" y="1356" textLength="175" lengthAdjust="spacingAndGlyphs">Characterize</text>
<text x="828" y="1356" textLength="287" lengthAdjust="spacingAndGlyphs">Fit Gaussian Process</text>
<text x="1393" y="1356" textLength="232" lengthAdjust="spacingAndGlyphs">Calculate <tspan class="i">ϕ</tspan>(z<tspan class="i" font-size="22" dy="7">w</tspan><tspan dy="-7">)</tspan></text>
<text x="1882" y="1356" textLength="240" lengthAdjust="spacingAndGlyphs">Maximize <tspan class="i">ϕ</tspan>(z<tspan class="i" font-size="22" dy="7">w</tspan><tspan dy="-7">)</tspan></text>
<text x="1342" y="1441" text-anchor="middle" textLength="358" lengthAdjust="spacingAndGlyphs">Add new sample to inputs</text>
</g>
<path d="M432 1451 V1410" stroke="#000" stroke-width="4" fill="none" marker-end="url(#mK)"/>
<path d="M430 1451 H2365 V1408" stroke="#000" stroke-width="4" fill="none"/>

<!-- ============ METHOD TEXT LEFT ============ -->
<g class="a" font-size="41" fill="#000">
<text x="385" y="1493" textLength="949" lengthAdjust="spacingAndGlyphs">➢<tspan class="b">Optimization objective</tspan> can be the error metric of</text>
<text x="410" y="1543" textLength="382" lengthAdjust="spacingAndGlyphs">trajectories like ADE.</text>
<text x="373" y="1649" textLength="916" lengthAdjust="spacingAndGlyphs">➢<tspan class="b">Gaussian Process</tspan> is to serve as a probabilistic</text>
<text x="398" y="1700" textLength="655" lengthAdjust="spacingAndGlyphs">surrogate of the objective function <tspan class="s i">f</tspan></text>
<text x="365" y="1823" textLength="858" lengthAdjust="spacingAndGlyphs">➢<tspan class="b">Characterize</tspan> the Gaussian Process and fit it</text>
</g>
<g class="s" font-size="46" fill="#000">
<text x="580" y="1600" textLength="154" lengthAdjust="spacingAndGlyphs"><tspan class="i">f</tspan>(z) =</text>
<text x="748" y="1604" font-size="70">∑</text>
<text x="812" y="1572" font-size="30" class="i">L</text>
<text x="806" y="1614" font-size="30"><tspan class="i">l</tspan>=1</text>
<text x="883" y="1600" textLength="307" lengthAdjust="spacingAndGlyphs"><tspan class="i">D</tspan>(<tspan class="i">G</tspan><tspan class="i" font-size="28" dy="8">θ</tspan><tspan dy="-8">(</tspan><tspan class="i">X</tspan><tspan class="i" font-size="28" dy="8">l</tspan><tspan dy="-8">, z))</tspan></text>
<text x="539" y="1764" textLength="568" lengthAdjust="spacingAndGlyphs"><tspan class="i">f</tspan>(z) ∼ <tspan class="i">GP</tspan> (<tspan class="i">μ</tspan>(z), <tspan class="i">κ</tspan>(<tspan class="b">z</tspan>, <tspan class="b">z′</tspan>))</text>
<text x="597" y="1884" textLength="278" lengthAdjust="spacingAndGlyphs"><tspan class="i">μ</tspan>(z) = 𝔼[<tspan class="i">f</tspan>(z)]</text>
<text x="539" y="1952" textLength="841" lengthAdjust="spacingAndGlyphs"><tspan class="i">κ</tspan>(<tspan class="b">z</tspan>, <tspan class="b">z′</tspan>) = 𝔼 [(<tspan class="i">f</tspan>(z) − <tspan class="i">μ</tspan>(z))<tspan class="i" font-size="30" dy="-18">T</tspan><tspan dy="18"> (</tspan><tspan class="i">f</tspan>(z′) − <tspan class="i">μ</tspan>(z′))]</text>
</g>
<!-- QR code -->
<g transform="translate(68,1702) scale(10.32)" stroke="#000" stroke-width="1.04" fill="none">
<path d="M0 0.5h7M8 0.5h1M10 0.5h2M14 0.5h1M16 0.5h1M18 0.5h7
M0 1.5h1M6 1.5h3M12 1.5h2M15 1.5h1M18 1.5h1M24 1.5h1
M0 2.5h1M2 2.5h3M6 2.5h1M9 2.5h2M12 2.5h1M14 2.5h2M17 2.5h2M20 2.5h3M24 2.5h1
M0 3.5h1M2 3.5h3M6 3.5h2M9 3.5h1M11 3.5h2M16 3.5h3M20 3.5h3M24 3.5h1
M0 4.5h1M2 4.5h3M6 4.5h1M8 4.5h2M13 4.5h2M16 4.5h1M18 4.5h1M20 4.5h3M24 4.5h1
M0 5.5h1M6 5.5h2M10 5.5h2M13 5.5h1M15 5.5h2M18 5.5h1M24 5.5h1
M0 6.5h7M8 6.5h1M10 6.5h1M12 6.5h1M14 6.5h1M16 6.5h1M18 6.5h7
M7 7.5h2M11 7.5h2M14 7.5h1M17 7.5h1
M0 8.5h1M2 8.5h2M5 8.5h3M9 8.5h2M13 8.5h1M15 8.5h3M19 8.5h2M22 8.5h1M24 8.5h1
M1 9.5h2M4 9.5h1M8 9.5h2M11 9.5h2M14 9.5h1M17 9.5h2M21 9.5h3
M0 10.5h2M4 10.5h3M8 10.5h1M10 10.5h1M13 10.5h3M17 10.5h1M19 10.5h2M23 10.5h2
M2 11.5h2M5 11.5h1M7 11.5h1M9 11.5h3M14 11.5h1M16 11.5h1M18 11.5h2M21 11.5h2
M0 12.5h1M2 12.5h1M5 12.5h3M10 12.5h1M12 12.5h2M15 12.5h2M20 12.5h2M23 12.5h2
M1 13.5h4M8 13.5h1M11 13.5h1M13 13.5h2M17 13.5h4M23 13.5h1
M0 14.5h1M3 14.5h1M5 14.5h2M8 14.5h3M12 14.5h1M15 14.5h3M19 14.5h1M22 14.5h3
M1 15.5h2M4 15.5h2M7 15.5h1M11 15.5h4M18 15.5h1M20 15.5h2M24 15.5h1
M0 16.5h2M3 16.5h1M6 16.5h1M8 16.5h2M11 16.5h1M14 16.5h2M17 16.5h3M22 16.5h2
M7 17.5h1M9 17.5h2M13 17.5h2M16 17.5h1M18 17.5h1M20 17.5h2M23 17.5h1
M0 18.5h7M9 18.5h1M11 18.5h2M14 18.5h2M18 18.5h3M22 18.5h1M24 18.5h1
M0 19.5h1M6 19.5h3M10 19.5h1M13 19.5h1M16 19.5h2M20 19.5h2M23 19.5h2
M0 20.5h1M2 20.5h3M6 20.5h1M8 20.5h2M11 20.5h2M14 20.5h5M21 20.5h1M23 20.5h1
M0 21.5h1M2 21.5h3M6 21.5h2M10 21.5h2M13 21.5h1M17 21.5h1M19 21.5h2M22 21.5h3
M0 22.5h1M2 22.5h3M6 22.5h1M8 22.5h2M12 22.5h1M14 22.5h3M18 22.5h2M22 22.5h1
M0 23.5h1M6 23.5h3M10 23.5h2M14 23.5h1M17 23.5h2M20 23.5h2M23 23.5h2
M0 24.5h7M8 24.5h1M11 24.5h3M15 24.5h2M19 24.5h1M21 24.5h2M24 24.5h1"/>
</g>

<!-- ============ METHOD TEXT MIDDLE ============ -->
<g class="a" font-size="41" fill="#000">
<text x="1453" y="1490" textLength="957" lengthAdjust="spacingAndGlyphs">➢<tspan class="b">Calculate <tspan class="s i">ϕ</tspan>(z<tspan class="i" font-size="26" dy="8">w</tspan><tspan dy="-8">)</tspan></tspan>: Calculate acquisition function ϕ,</text>
<text x="1477" y="1541" textLength="905" lengthAdjust="spacingAndGlyphs">which balances the accuracy μ and uncertainty κ.</text>
<text x="1453" y="1662" textLength="957" lengthAdjust="spacingAndGlyphs">➢<tspan class="b">Maximize <tspan class="s i">ϕ</tspan>(z<tspan class="i" font-size="26" dy="8">w</tspan><tspan dy="-8">)</tspan></tspan>: Finally, maximize the acquisition</text>
<text x="1477" y="1711" textLength="646" lengthAdjust="spacingAndGlyphs">function to select the next samples.</text>
<text x="1442" y="1811" textLength="989" lengthAdjust="spacingAndGlyphs">➢<tspan class="b">Pseudo-score objective</tspan> is the ADE from sample to</text>
<text x="1467" y="1862" textLength="452" lengthAdjust="spacingAndGlyphs">the most likely trajectory.</text>
</g>
<g class="s" font-size="44" fill="#000">
<text x="1551" y="1611" textLength="396" lengthAdjust="spacingAndGlyphs"><tspan class="i">ϕ</tspan>(z<tspan class="i" font-size="28" dy="8">w</tspan><tspan dy="-8">) = </tspan><tspan class="i">μ</tspan><tspan class="i" font-size="28" dy="8">w</tspan><tspan dy="-8">(z</tspan><tspan class="i" font-size="28" dy="8">w</tspan><tspan dy="-8">) +</tspan></text>
<path d="M1984 1590L1994 1584L2006 1618L2020 1560H2264" stroke="#000" stroke-width="2.5" fill="none"/>
<text x="2025" y="1611" textLength="238" lengthAdjust="spacingAndGlyphs"><tspan class="i">βκ</tspan><tspan class="i" font-size="28" dy="8">w</tspan><tspan dy="-8">(z</tspan><tspan class="i" font-size="28" dy="8">w</tspan><tspan dy="-8">, z′</tspan><tspan class="i" font-size="28" dy="8">w</tspan><tspan dy="-8">)</tspan></text>
<text x="1656" y="1766" textLength="428" lengthAdjust="spacingAndGlyphs">z<tspan font-size="28" dy="-16">*</tspan><tspan class="i" font-size="28" dy="26" dx="-12">w</tspan><tspan dy="-10"> = arg max </tspan><tspan class="i">ϕ</tspan>(z<tspan class="i" font-size="28" dy="8">w</tspan><tspan dy="-8">)</tspan></text>
<text x="1572" y="1952" textLength="172" lengthAdjust="spacingAndGlyphs"><tspan class="i">f</tspan>(z) = −</text>
<text x="1750" y="1962" font-size="86">∑</text>
<text x="1779" y="1890" font-size="30" class="i" text-anchor="middle">L</text>
<text x="1779" y="1992" font-size="30" text-anchor="middle"><tspan class="i">l</tspan>=1</text>
<text x="1817" y="1952" textLength="460" lengthAdjust="spacingAndGlyphs"><tspan class="i">D</tspan><tspan class="i" font-size="28" dy="8">ade</tspan><tspan dy="-8">(</tspan><tspan class="i">G</tspan><tspan class="i" font-size="28" dy="8">θ</tspan><tspan dy="-8">(</tspan><tspan class="i">X</tspan>, z), <tspan class="i">G</tspan><tspan class="i" font-size="28" dy="8">θ</tspan><tspan dy="-8">(</tspan><tspan class="i">X</tspan>, z̃))</text>
</g>

<!-- ============ RIGHT: TRAJECTORY GRID ============ -->
<g class="s" font-size="25" fill="#000">
<text x="2524" y="1156">MC</text>
<text x="2518" y="1246">QMC</text>
<text x="2500" y="1338" textLength="102" lengthAdjust="spacingAndGlyphs">BOsampler</text>
</g>
<g fill="#e3edfa">
<use href="#blob" transform="translate(2653,1143) scale(1,0.6)" filter="url(#bl3)"/>
<use href="#blob" transform="translate(2825,1143) scale(1,0.6)" filter="url(#bl3)"/>
<use href="#blob" transform="translate(2993,1143) scale(1,0.6)" filter="url(#bl3)"/>
<use href="#blob" transform="translate(3165,1143) scale(1,0.6)" filter="url(#bl3)"/>
<use href="#blob" transform="translate(3333,1143) scale(1,0.6)" filter="url(#bl3)"/>
</g>
<g fill="#fff3c4">
<use href="#blob" transform="translate(2653,1238) scale(1,0.7)" filter="url(#bl3)"/>
<use href="#blob" transform="translate(2825,1238) scale(1,0.7)" filter="url(#bl3)"/>
<use href="#blob" transform="translate(2993,1238) scale(1,0.7)" filter="url(#bl3)"/>
<use href="#blob" transform="translate(3165,1238) scale(1,0.7)" filter="url(#bl3)"/>
<use href="#blob" transform="translate(3333,1238) scale(1,0.7)" filter="url(#bl3)"/>
</g>
<g fill="#e9f5e5">
<use href="#blob" transform="translate(2653,1335) scale(1,0.82)" filter="url(#bl3)"/>
<use href="#blob" transform="translate(2825,1335) scale(1,0.82)" filter="url(#bl3)"/>
<use href="#blob" transform="translate(2993,1335) scale(1,0.82)" filter="url(#bl3)"/>
<use href="#blob" transform="translate(3165,1335) scale(1,0.82)" filter="url(#bl3)"/>
<use href="#blob" transform="translate(3333,1335) scale(1,0.82)" filter="url(#bl3)"/>
</g>
<g fill="url(#cB)"><ellipse cx="2665" cy="1143" rx="30" ry="10"/><ellipse cx="2837" cy="1143" rx="30" ry="10"/><ellipse cx="3005" cy="1143" rx="30" ry="10"/><ellipse cx="3177" cy="1143" rx="30" ry="10"/><ellipse cx="3345" cy="1143" rx="30" ry="10"/></g>
<g fill="url(#cY)"><ellipse cx="2665" cy="1238" rx="30" ry="10"/><ellipse cx="2837" cy="1238" rx="30" ry="10"/><ellipse cx="3005" cy="1238" rx="30" ry="10"/><ellipse cx="3177" cy="1238" rx="30" ry="10"/><ellipse cx="3345" cy="1238" rx="30" ry="10"/></g>
<g fill="url(#cG)"><ellipse cx="2665" cy="1335" rx="30" ry="10"/><ellipse cx="2837" cy="1335" rx="30" ry="10"/><ellipse cx="3005" cy="1335" rx="30" ry="10"/><ellipse cx="3177" cy="1335" rx="30" ry="10"/><ellipse cx="3345" cy="1335" rx="30" ry="10"/></g>
<g stroke="#2a3ae8" stroke-width="2.5" stroke-opacity="0.75" fill="none">
<g transform="translate(2653,1143) scale(1,0.55)"><use href="#f1"/></g>
<g transform="translate(2825,1143) scale(1,0.55)"><use href="#f1"/><use href="#f2"/></g>
<g transform="translate(2993,1143) scale(1,0.55)"><use href="#f1"/><use href="#f2"/><use href="#f3"/></g>
<g transform="translate(3165,1143) scale(1,0.55)"><use href="#f1"/><use href="#f2"/><use href="#f3"/><use href="#f4"/></g>
<g transform="translate(3333,1143) scale(1,0.55)"><use href="#f1"/><use href="#f2"/><use href="#f3"/><use href="#f4"/><use href="#f5"/></g>
</g>
<g stroke="#d4cc30" stroke-width="2.5" stroke-opacity="0.8" fill="none">
<g transform="translate(2653,1238) scale(1,0.65)"><use href="#f1"/></g>
<g transform="translate(2825,1238) scale(1,0.65)"><use href="#f1"/><use href="#f2"/></g>
<g transform="translate(2993,1238) scale(1,0.65)"><use href="#f1"/><use href="#f2"/><use href="#f3"/></g>
<g transform="translate(3165,1238) scale(1,0.65)"><use href="#f1"/><use href="#f2"/><use href="#f3"/><use href="#f4"/></g>
<g transform="translate(3333,1238) scale(1,0.65)"><use href="#f1"/><use href="#f2"/><use href="#f3"/><use href="#f4"/><use href="#f5"/></g>
</g>
<g stroke="#2e9a3a" stroke-width="2.5" stroke-opacity="0.75" fill="none">
<g transform="translate(2653,1335) scale(1,0.78)"><use href="#f1"/></g>
<g transform="translate(2825,1335) scale(1,0.78)"><use href="#f1"/><use href="#f2"/></g>
<g transform="translate(2993,1335) scale(1,0.78)"><use href="#f1"/><use href="#f2"/><use href="#f3"/></g>
<g transform="translate(3165,1335) scale(1,0.78)"><use href="#f1"/><use href="#f2"/><use href="#f3"/><use href="#f4"/></g>
<g transform="translate(3333,1335) scale(1,0.78)"><use href="#f1"/><use href="#f2"/><use href="#f3"/><use href="#f4"/><use href="#f5"/></g>
</g>
<g>
<use href="#gt" x="2653" y="1143"/><use href="#gt" x="2825" y="1143"/><use href="#gt" x="2993" y="1143"/><use href="#gt" x="3165" y="1143"/><use href="#gt" x="3333" y="1143"/>
<use href="#gt" x="2653" y="1238"/><use href="#gt" x="2825" y="1238"/><use href="#gt" x="2993" y="1238"/><use href="#gt" x="3165" y="1238"/><use href="#gt" x="3333" y="1238"/>
<use href="#gt" x="2653" y="1335"/><use href="#gt" x="2825" y="1335"/><use href="#gt" x="2993" y="1335"/><use href="#gt" x="3165" y="1335"/><use href="#gt" x="3333" y="1335"/>
</g>
<g class="s" font-size="25" fill="#000">
<text x="2672" y="1410">N=4</text><text x="2843" y="1410">N=8</text><text x="3008" y="1410">N=12</text><text x="3178" y="1410">N=16</text><text x="3348" y="1410">N=20</text>
</g>
<rect x="3443" y="1152" width="34" height="7" fill="#a884d4"/>
<rect x="3443" y="1190" width="34" height="7" fill="#ff1010"/>
<rect x="3443" y="1229" width="34" height="7" fill="#1838d0"/>
<rect x="3443" y="1267" width="34" height="7" fill="#e0e070"/>
<rect x="3443" y="1305" width="34" height="7" fill="#3a9a3a"/>
<rect x="3443" y="1333" width="26" height="24" fill="url(#dist)"/>
<g class="s" font-size="20" fill="#333">
<text x="3490" y="1162">Observation</text><text x="3490" y="1200">Ground truth</text><text x="3490" y="1238">MC</text><text x="3490" y="1276">QMC</text><text x="3490" y="1314">BOsampler</text><text x="3490" y="1352">Distribution</text>
</g>
<g class="a" font-size="41" fill="#000">
<text x="3581" y="1132">➢BOsampler</text>
<text x="3605" y="1180">adaptively</text>
<text x="3605" y="1232">modifies the</text>
<text x="3605" y="1282">sampling</text>
<text x="3605" y="1332">distribution</text>
<text x="3605" y="1382">with previous</text>
<text x="3605" y="1432">samples.</text>
<text x="3591" y="1519">➢BOsampler</text>
<text x="3615" y="1570">can provide</text>
<text x="3615" y="1620">the socially-</text>
<text x="3615" y="1669">acceptable</text>
<text x="3615" y="1720">paths in the</text>
<text x="3615" y="1769">low-</text>
<text x="3615" y="1818">probabilities</text>
<text x="3615" y="1869">(away from</text>
<text x="3615" y="1920">normal ones).</text>
</g>

<!-- ============ RIGHT: PHOTOS ============ -->
<g class="s" font-size="28" fill="#000" text-anchor="middle">
<text x="2627" y="1478">ETH</text><text x="2841" y="1478">HOTEL</text><text x="3050" y="1478">ZARA1</text><text x="3258" y="1478">ZARA2</text><text x="3473" y="1478">UNIV</text>
</g>
<!-- ETH -->
<g>
<rect x="2524" y="1488" width="206" height="215" fill="#8d8270"/>
<rect x="2524" y="1488" width="206" height="40" fill="#6a6050"/>
<rect x="2524" y="1545" width="44" height="158" fill="url(#tile)"/>
<rect x="2688" y="1545" width="42" height="158" fill="url(#tile)"/>
<path d="M2568 1540H2688L2668 1703H2590Z" fill="#4a3a2e"/>
<path d="M2630 1533 C 2650 1528, 2665 1560, 2660 1598 C 2650 1640, 2640 1660, 2635 1670 C 2625 1610, 2615 1570, 2630 1533Z" fill="#cfcfcf" fill-opacity="0.85"/>
<path d="M2640 1550L2637 1690" stroke="#a070d0" stroke-width="2"/><path d="M2636 1550L2634 1600" stroke="#e02020" stroke-width="2"/><path d="M2642 1550L2640 1610" stroke="#30a040" stroke-width="2"/>
<rect x="2524" y="1713" width="206" height="217" fill="#8d8270"/>
<rect x="2524" y="1713" width="206" height="40" fill="#6a6050"/>
<rect x="2524" y="1770" width="44" height="160" fill="url(#tile)"/>
<rect x="2688" y="1770" width="42" height="160" fill="url(#tile)"/>
<path d="M2568 1765H2688L2668 1930H2590Z" fill="#4a3a2e"/>
<path d="M2632 1760 C 2655 1755, 2672 1800, 2660 1850 C 2650 1880, 2640 1890, 2636 1895 C 2620 1840, 2610 1790, 2632 1760Z" fill="#cfcfcf" fill-opacity="0.85"/>
<path d="M2638 1780L2636 1925" stroke="#a070d0" stroke-width="2"/><path d="M2634 1790L2630 1860" stroke="#3050e0" stroke-width="2"/>
</g>
<!-- HOTEL -->
<g>
<rect x="2744" y="1488" width="194" height="215" fill="#8e8c88"/>
<rect x="2744" y="1488" width="40" height="215" fill="#7a746c"/>
<path d="M2744 1685L2938 1655V1672L2744 1703Z" fill="#e6dc9a"/>
<path d="M2744 1680L2938 1650" stroke="#333" stroke-width="3"/>
<path d="M2810 1643 C 2830 1630, 2870 1630, 2875 1650 C 2870 1680, 2850 1705, 2840 1700 C 2820 1680, 2805 1660, 2810 1643Z" fill="#cfcfcf" fill-opacity="0.8"/>
<path d="M2790 1655L2820 1655L2860 1650L2880 1645" stroke="#e02020" stroke-width="3" fill="none"/><path d="M2820 1658L2870 1660" stroke="#30a040" stroke-width="3"/><path d="M2820 1662L2865 1668" stroke="#3050e0" stroke-width="3"/><path d="M2750 1652L2790 1655" stroke="#a070d0" stroke-width="3"/>
<rect x="2744" y="1713" width="194" height="217" fill="#8e8c88"/>
<rect x="2744" y="1713" width="40" height="217" fill="#7a746c"/>
<path d="M2744 1910L2938 1880V1897L2744 1930Z" fill="#e6dc9a"/>
<path d="M2744 1905L2938 1875" stroke="#333" stroke-width="3"/>
<path d="M2820 1850 C 2840 1830, 2870 1830, 2875 1850 C 2870 1880, 2850 1900, 2835 1895 C 2815 1880, 2810 1865, 2820 1850Z" fill="#cfcfcf" fill-opacity="0.8"/>
<path d="M2750 1852L2800 1855L2850 1840L2870 1825" stroke="#3050e0" stroke-width="3" fill="none"/><path d="M2800 1856L2875 1860" stroke="#e02020" stroke-width="3"/>
</g>
<!-- ZARA1 -->
<g>
<rect x="2948" y="1488" width="204" height="215" fill="#6c6e76"/>
<rect x="2955" y="1488" width="60" height="30" fill="#d4d4d6"/><rect x="2962" y="1490" width="45" height="22" fill="#2a2a30"/>
<rect x="3055" y="1488" width="32" height="70" fill="#9a9ca4"/>
<ellipse cx="3000" cy="1600" rx="40" ry="20" fill="#a8aab2"/><ellipse cx="3080" cy="1640" rx="35" ry="30" fill="#b4b6bc"/><ellipse cx="3120" cy="1560" rx="25" ry="25" fill="#a0a2aa"/>
<path d="M3030 1600L3060 1600L3090 1615" stroke="#3050e0" stroke-width="3" fill="none"/><path d="M3025 1605L3070 1630" stroke="#30a040" stroke-width="3"/><path d="M3000 1575L3028 1600" stroke="#a070d0" stroke-width="3"/>
<rect x="2948" y="1713" width="204" height="217" fill="#6c6e76"/>
<rect x="2955" y="1713" width="130" height="40" fill="#d4d4d6"/><rect x="2962" y="1716" width="50" height="30" fill="#2a2a30"/><rect x="3020" y="1716" width="55" height="30" fill="#2a2a30"/>
<ellipse cx="3080" cy="1900" rx="30" ry="25" fill="#44464e"/><ellipse cx="3110" cy="1830" rx="30" ry="25" fill="#a8aab2"/>
<path d="M2955 1760L3000 1830L3030 1845" stroke="#d4cc30" stroke-width="3" fill="none"/><path d="M2960 1770L3005 1835" stroke="#3050e0" stroke-width="3"/><path d="M3030 1845L3065 1870" stroke="#a070d0" stroke-width="3"/>
</g>
<!-- ZARA2 -->
<g>
<rect x="3160" y="1488" width="196" height="215" fill="#7e8088"/>
<rect x="3160" y="1488" width="95" height="130" fill="#d2d2d4"/>
<rect x="3168" y="1500" width="28" height="40" fill="#3a3a3e"/><rect x="3206" y="1500" width="28" height="40" fill="#3a3a3e"/><rect x="3168" y="1560" width="28" height="45" fill="#2a2a2e"/><rect x="3206" y="1560" width="28" height="45" fill="#2a2a2e"/>
<rect x="3336" y="1488" width="20" height="215" fill="#f2f2f2"/>
<path d="M3240 1650 C 3260 1640, 3300 1640, 3300 1660 C 3295 1690, 3280 1690, 3265 1680Z" fill="#cfcfcf" fill-opacity="0.8"/>
<path d="M3230 1660L3260 1665L3340 1665" stroke="#3050e0" stroke-width="3" fill="none"/><path d="M3260 1664L3320 1625" stroke="#e02020" stroke-width="3"/><path d="M3260 1664L3330 1640" stroke="#30a040" stroke-width="3"/><path d="M3205 1650L3240 1662" stroke="#a070d0" stroke-width="3"/>
<rect x="3160" y="1713" width="196" height="217" fill="#7e8088"/>
<rect x="3160" y="1713" width="95" height="130" fill="#d2d2d4"/>
<rect x="3168" y="1725" width="28" height="40" fill="#3a3a3e"/><rect x="3206" y="1725" width="28" height="40" fill="#3a3a3e"/><rect x="3168" y="1785" width="28" height="45" fill="#2a2a2e"/><rect x="3206" y="1785" width="28" height="45" fill="#2a2a2e"/>
<rect x="3336" y="1713" width="20" height="217" fill="#f2f2f2"/>
<path d="M3300 1840L3330 1830L3330 1890L3290 1900Z" fill="#cfcfcf" fill-opacity="0.8"/>
<path d="M3250 1920L3290 1880L3320 1830" stroke="#30a040" stroke-width="3" fill="none"/><path d="M3250 1920L3300 1870L3325 1820" stroke="#e02020" stroke-width="3" fill="none"/>
</g>
<!-- UNIV -->
<g>
<rect x="3373" y="1488" width="201" height="215" fill="#a89c8e"/>
<rect x="3373" y="1488" width="60" height="70" fill="#2e302a"/>
<g fill="#2a2624">
<ellipse cx="3450" cy="1500" rx="10" ry="12"/><ellipse cx="3540" cy="1530" rx="12" ry="10"/><ellipse cx="3560" cy="1600" rx="9" ry="14"/><ellipse cx="3520" cy="1650" rx="12" ry="10"/><ellipse cx="3470" cy="1680" rx="10" ry="12"/><ellipse cx="3400" cy="1660" rx="10" ry="12"/><ellipse cx="3545" cy="1690" rx="12" ry="9"/><ellipse cx="3500" cy="1570" rx="8" ry="10"/><ellipse cx="3390" cy="1600" rx="8" ry="10"/>
</g>
<path d="M3395 1580 C 3420 1570, 3460 1580, 3470 1600 C 3460 1620, 3420 1620, 3395 1600Z" fill="#d8d4d0" fill-opacity="0.8"/>
<path d="M3395 1590L3435 1610L3460 1620" stroke="#3050e0" stroke-width="3" fill="none"/><path d="M3410 1550L3420 1590L3455 1620" stroke="#e02020" stroke-width="3" fill="none"/><path d="M3460 1620L3520 1650L3570 1665" stroke="#a070d0" stroke-width="3" fill="none"/>
<rect x="3373" y="1713" width="203" height="217" fill="#a89c8e"/>
<g fill="#2a2624">
<ellipse cx="3420" cy="1740" rx="10" ry="12"/><ellipse cx="3530" cy="1760" rx="12" ry="10"/><ellipse cx="3560" cy="1830" rx="9" ry="14"/><ellipse cx="3520" cy="1880" rx="12" ry="10"/><ellipse cx="3460" cy="1900" rx="14" ry="14"/><ellipse cx="3400" cy="1870" rx="12" ry="14"/><ellipse cx="3545" cy="1915" rx="12" ry="9"/><ellipse cx="3490" cy="1800" rx="8" ry="10"/><ellipse cx="3395" cy="1800" rx="8" ry="10"/><ellipse cx="3430" cy="1920" rx="12" ry="9"/>
</g>
<path d="M3430 1800 C 3460 1790, 3500 1800, 3500 1830 C 3480 1850, 3450 1840, 3430 1820Z" fill="#d8d4d0" fill-opacity="0.8"/>
<path d="M3420 1810L3450 1840L3470 1860" stroke="#e02020" stroke-width="3" fill="none"/><path d="M3425 1820L3455 1850" stroke="#d4cc30" stroke-width="3"/><path d="M3470 1860L3500 1880" stroke="#a070d0" stroke-width="3"/>
</g>
<!-- bottom legend -->
<rect x="2613" y="1945" width="26" height="7" fill="#a884d4"/>
<rect x="2785" y="1945" width="26" height="7" fill="#ff1010"/>
<rect x="2959" y="1945" width="26" height="7" fill="#1838d0"/>
<rect x="3063" y="1945" width="26" height="7" fill="#e0e070"/>
<rect x="3181" y="1945" width="26" height="7" fill="#3a9a3a"/>
<rect x="3344" y="1941" width="16" height="17" fill="url(#dist)"/>
<g class="s" font-size="22" fill="#333">
<text x="2646" y="1956">Observation</text><text x="2818" y="1956">Ground truth</text><text x="2990" y="1956">MC</text><text x="3095" y="1956">QMC</text><text x="3213" y="1956">BOsampler</text><text x="3373" y="1956">Distribution</text>
</g>
</svg>
</body></html>
